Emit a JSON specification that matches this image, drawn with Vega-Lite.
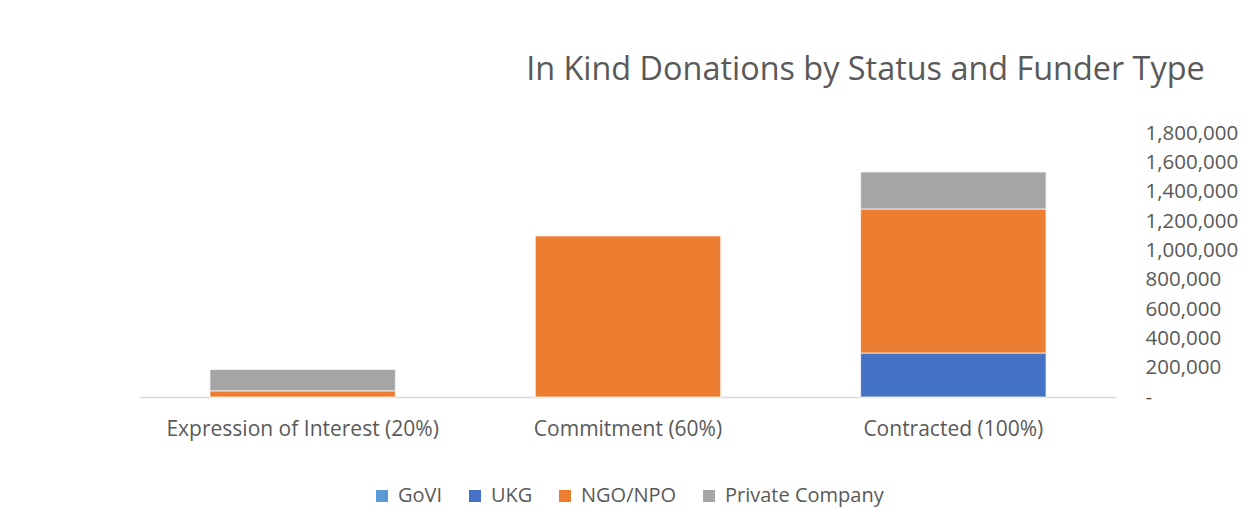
{
  "$schema": "https://vega.github.io/schema/vega-lite/v6.json",
  "width": 976,
  "height": 264,
  "autosize": {"type": "none"},
  "padding": {"left": 140, "top": 133, "right": 132, "bottom": 130},
  "background": "white",
  "title": {
    "text": "In Kind Donations by Status and Funder Type",
    "anchor": "end",
    "frame": "bounds",
    "font": "Open Sans",
    "fontSize": 32.4,
    "fontWeight": "normal",
    "color": "#595959",
    "offset": 37,
    "dx": -33
  },
  "data": {
    "values": [
      {"status": "Expression of Interest (20%)", "funder": "GoVI", "order": 0, "value": 0},
      {"status": "Expression of Interest (20%)", "funder": "UKG", "order": 1, "value": 0},
      {"status": "Expression of Interest (20%)", "funder": "NGO/NPO", "order": 2, "value": 42000},
      {"status": "Expression of Interest (20%)", "funder": "Private Company", "order": 3, "value": 145000},
      {"status": "Commitment (60%)", "funder": "GoVI", "order": 0, "value": 0},
      {"status": "Commitment (60%)", "funder": "UKG", "order": 1, "value": 0},
      {"status": "Commitment (60%)", "funder": "NGO/NPO", "order": 2, "value": 1100000},
      {"status": "Commitment (60%)", "funder": "Private Company", "order": 3, "value": 0},
      {"status": "Contracted (100%)", "funder": "GoVI", "order": 0, "value": 0},
      {"status": "Contracted (100%)", "funder": "UKG", "order": 1, "value": 300000},
      {"status": "Contracted (100%)", "funder": "NGO/NPO", "order": 2, "value": 982000},
      {"status": "Contracted (100%)", "funder": "Private Company", "order": 3, "value": 252000}
    ]
  },
  "mark": {"type": "bar", "stroke": "white", "strokeWidth": 0.7},
  "encoding": {
    "x": {
      "field": "status",
      "type": "nominal",
      "sort": null,
      "scale": {"paddingInner": 0.43, "paddingOuter": 0.215},
      "axis": {
        "title": null,
        "labelAngle": 0,
        "labelLimit": 0,
        "ticks": false,
        "domainColor": "#d9d9d9",
        "domainWidth": 1.5,
        "labelFont": "Open Sans",
        "labelFontSize": 21,
        "labelColor": "#595959",
        "labelPadding": 21
      }
    },
    "y": {
      "field": "value",
      "type": "quantitative",
      "stack": "zero",
      "scale": {"domain": [0, 1800000], "nice": false},
      "axis": {
        "orient": "right",
        "title": null,
        "values": [0, 200000, 400000, 600000, 800000, 1000000, 1200000, 1400000, 1600000, 1800000],
        "labelExpr": "datum.value == 0 ? '-' : format(datum.value, ',')",
        "ticks": false,
        "domain": false,
        "grid": false,
        "labelAlign": "left",
        "labelFont": "Open Sans",
        "labelFontSize": 20.5,
        "labelColor": "#595959",
        "labelPadding": 29
      }
    },
    "color": {
      "field": "funder",
      "type": "nominal",
      "scale": {
        "domain": ["GoVI", "UKG", "NGO/NPO", "Private Company"],
        "range": ["#5B9BD5", "#4472C4", "#ED7D31", "#A5A5A5"]
      },
      "legend": {
        "title": null,
        "orient": "bottom",
        "direction": "horizontal",
        "symbolType": "square",
        "symbolSize": 144,
        "symbolStrokeWidth": 0,
        "labelFont": "Open Sans",
        "labelFontSize": 20,
        "labelColor": "#595959",
        "columnPadding": 22,
        "labelOffset": 6,
        "offset": 47
      }
    },
    "order": {"field": "order", "type": "quantitative"}
  },
  "config": {
    "view": {"stroke": null},
    "legend": {"layout": {"bottom": {"anchor": "middle"}}}
  }
}
